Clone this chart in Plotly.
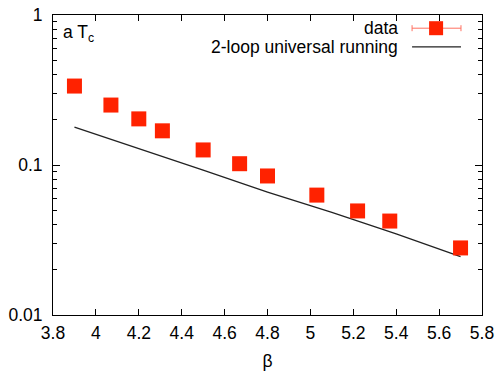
import plotly.graph_objects as go

# data
beta = [3.9, 4.07, 4.2, 4.31, 4.5, 4.67, 4.8, 5.03, 5.22, 5.37, 5.7]
aTc = [0.336, 0.251, 0.203, 0.169, 0.126, 0.102, 0.0845, 0.063, 0.0494, 0.0423, 0.028]
aTc_err = [0.004, 0.003, 0.002, 0.002, 0.0015, 0.0012, 0.001, 0.0008, 0.0006, 0.0005, 0.0004]

run_beta = [3.9, 4.2, 4.5, 4.8, 5.1, 5.4, 5.7]
run_aTc = [0.179, 0.129, 0.0923, 0.066, 0.0483, 0.0347, 0.0245]

xticks = [3.8, 4.0, 4.2, 4.4, 4.6, 4.8, 5.0, 5.2, 5.4, 5.6, 5.8]
xticklabels = ["3.8", "4", "4.2", "4.4", "4.6", "4.8", "5", "5.2", "5.4", "5.6", "5.8"]
yticks = [0.01, 0.1, 1]
yticklabels = ["0.01", "0.1", "1"]
yminor = [m * 10 ** e for e in (-2, -1) for m in range(2, 10)]

RED = "#ff2200"
FONT = "Liberation Sans, Arial, sans-serif"
FS = 17.5

fig = go.Figure()
fig.add_trace(go.Scatter(
    x=run_beta, y=run_aTc, mode="lines",
    line=dict(color="#222222", width=1.3), showlegend=False,
))
fig.add_trace(go.Scatter(
    x=beta, y=aTc, mode="markers",
    marker=dict(symbol="square", size=15, color=RED),
    error_y=dict(type="data", array=aTc_err, color="#ff7060", thickness=1, width=3),
    showlegend=False,
))

axis_common = dict(
    showline=True, linecolor="black", linewidth=1, mirror="allticks",
    ticks="inside", tickcolor="black", showgrid=False, zeroline=False,
    tickfont=dict(family=FONT, size=FS, color="black"), automargin=False,
)
fig.update_xaxes(range=[3.8, 5.8], tickvals=xticks, ticktext=xticklabels, ticklen=6,
                 ticklabelstandoff=2,
                 title=dict(text="β", font=dict(family=FONT, size=FS, color="black"), standoff=12),
                 **axis_common)
fig.update_yaxes(type="log", range=[-2, 0], tickvals=yticks, ticktext=yticklabels, ticklen=7,
                 ticklabelstandoff=6,
                 minor=dict(tickvals=yminor, ticks="inside", ticklen=4, tickcolor="black"),
                 **axis_common)

# legend drawn manually (text left of sample, gnuplot style)
lx_text = 0.809
ly1, ly2 = 0.956, 0.894
sx0, sx1, sxc = 0.837, 0.951, 0.893
fig.add_annotation(xref="paper", yref="paper", x=lx_text, y=ly1, text="data", showarrow=False,
                   xanchor="right", yanchor="middle", font=dict(family=FONT, size=FS, color="black"))
fig.add_annotation(xref="paper", yref="paper", x=lx_text, y=ly2, text="2-loop universal running",
                   showarrow=False, xanchor="right", yanchor="middle",
                   font=dict(family=FONT, size=FS, color="black"))
fig.add_shape(type="line", xref="paper", yref="paper", x0=sx0, x1=sx1, y0=ly1, y1=ly1,
              line=dict(color="#ff7060", width=1))
for xe in (sx0, sx1):
    fig.add_shape(type="line", xref="paper", yref="paper", xsizemode="pixel", ysizemode="pixel",
                  xanchor=xe, yanchor=ly1, x0=0, x1=0, y0=-3, y1=3, line=dict(color="#ff7060", width=1))
fig.add_shape(type="rect", xref="paper", yref="paper", xsizemode="pixel", ysizemode="pixel",
              xanchor=sxc, yanchor=ly1, x0=-7, x1=7, y0=-7, y1=7,
              fillcolor=RED, line=dict(width=0))
fig.add_shape(type="line", xref="paper", yref="paper", x0=sx0, x1=sx1, y0=ly2, y1=ly2,
              line=dict(color="#222222", width=1.3))

fig.add_annotation(xref="paper", yref="paper", x=0.019, y=0.94, text="a T<sub>c</sub>", showarrow=False,
                   xanchor="left", yanchor="middle", font=dict(family=FONT, size=FS, color="black"))

fig.update_layout(
    width=499, height=371,
    margin=dict(l=53, r=17, t=15, b=56),
    paper_bgcolor="white", plot_bgcolor="white",
)
fig.write_html("out.html")
